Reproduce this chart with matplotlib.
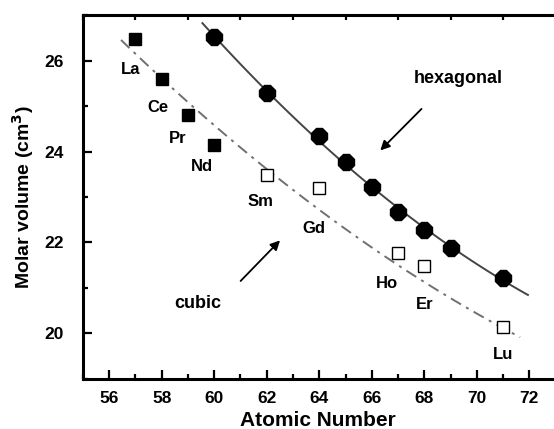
import numpy as np
import matplotlib
matplotlib.use("Agg")
import matplotlib.pyplot as plt
from matplotlib.ticker import MultipleLocator

plt.rcParams['font.family'] = ['Liberation Sans', 'DejaVu Sans']
plt.rcParams['font.weight'] = 'bold'

# hexagonal phase
hex_x = [60, 62, 64, 65, 66, 67, 68, 69, 71]
hex_y = [26.52, 25.28, 24.35, 23.76, 23.22, 22.68, 22.28, 21.88, 21.22]

# cubic phase (filled: La-Nd, open: Sm-Lu)
cub_fill_x = [57, 58, 59, 60]
cub_fill_y = [26.48, 25.59, 24.80, 24.15]
cub_open_x = [62, 64, 67, 68, 71]
cub_open_y = [23.48, 23.20, 21.76, 21.48, 20.15]

# cubic guide line
cub_line_x = [56.45, 58.0, 60.0, 62.0, 64.5, 67.0, 69.0, 71.65]
cub_line_y = [26.57, 25.60, 24.45, 23.45, 22.55, 21.62, 20.95, 19.76]

labels = ['La', 'Ce', 'Pr', 'Nd', 'Sm', 'Gd', 'Ho', 'Er', 'Lu']
label_x = [56.82, 57.84, 58.6, 59.54, 61.76, 63.78, 66.57, 68.03, 71.0]
label_y = [25.8, 24.97, 24.28, 23.68, 22.9, 22.31, 21.09, 20.64, 19.53]

fig = plt.figure(figsize=(5.54, 4.29), dpi=100)
ax = fig.add_axes([0.1498, 0.1166, 0.8482, 0.8484])

# hexagonal fit line
coef = np.polyfit(hex_x, hex_y, 2)
xx = np.linspace(59.55, 71.95, 100)
ax.plot(xx, np.polyval(coef, xx), color='#444444', lw=1.4, zorder=2)

# cubic guide line (smooth)
coef_c = np.polyfit(cub_line_x, cub_line_y, 2)
xc = np.linspace(cub_line_x[0], cub_line_x[-1], 100)
ax.plot(xc, np.polyval(coef_c, xc), color='#707070', lw=1.4,
        ls=(0, (6, 3, 1.5, 3)), zorder=2)

ax.plot(hex_x, hex_y, ls='none', marker='8', ms=12, color='black', zorder=3)
ax.plot(cub_fill_x, cub_fill_y, ls='none', marker='s', ms=8.5, color='black', zorder=3)
ax.plot(cub_open_x, cub_open_y, ls='none', marker='s', ms=9, mfc='white',
        mec='black', mew=1.0, zorder=3)

for t, x, y in zip(labels, label_x, label_y):
    ax.text(x, y, t, ha='center', va='center', fontsize=12, fontweight='bold')

ax.text(69.3, 25.6, 'hexagonal', ha='center', va='center', fontsize=13, fontweight='bold')
ax.text(59.39, 20.67, 'cubic', ha='center', va='center', fontsize=13, fontweight='bold')
ax.annotate('', xy=(66.25, 23.98), xytext=(67.97, 24.98),
            arrowprops=dict(arrowstyle='-|>', color='black', lw=1.3, mutation_scale=14))
ax.annotate('', xy=(62.58, 22.09), xytext=(60.93, 21.11),
            arrowprops=dict(arrowstyle='-|>', color='black', lw=1.3, mutation_scale=14))

ax.set_xlim(55, 72.9)
ax.set_ylim(19, 27)
ax.xaxis.set_minor_locator(MultipleLocator(1))
ax.yaxis.set_minor_locator(MultipleLocator(1))
ax.set_xticks(range(56, 73, 2))
ax.set_yticks([20, 22, 24, 26])

ax.tick_params(which='major', direction='in', length=6.5, width=1.6, labelsize=12.5,
               top=False, right=False)
ax.tick_params(axis='x', which='major', pad=9)
ax.tick_params(axis='y', which='major', pad=14)
ax.tick_params(which='minor', direction='in', length=3.5, width=1.6, top=True, right=False)
for lab in ax.get_xticklabels() + ax.get_yticklabels():
    lab.set_fontweight('bold')

for s in ['left', 'bottom', 'top']:
    ax.spines[s].set_linewidth(2.2)
ax.spines['right'].set_visible(False)

ax.set_xlabel('Atomic Number', fontsize=15, fontweight='bold', labelpad=3)
ax.set_ylabel('Molar volume (cm$^\\mathbf{3}$)', fontsize=14, fontweight='bold', labelpad=6)

fig.savefig('out.png', dpi=100)
